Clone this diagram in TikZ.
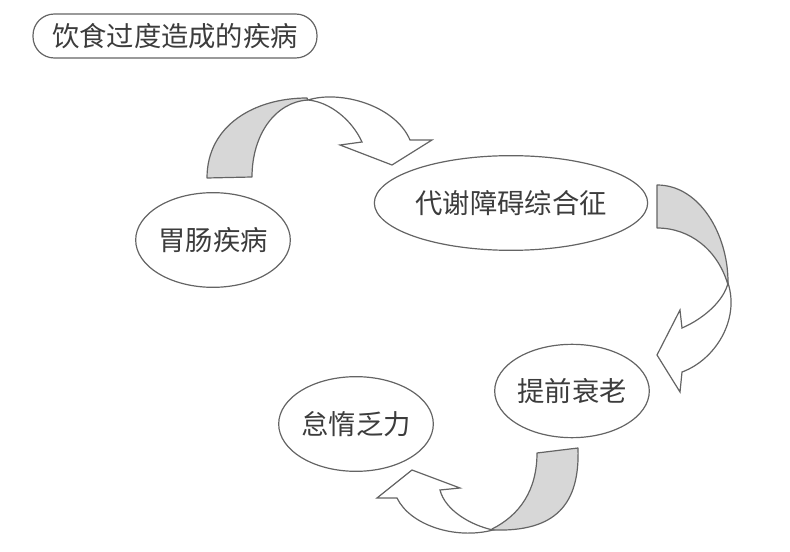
\documentclass[tikz,border=0pt]{standalone}
\usepackage{fontspec}
\usepackage{xcolor}
\usepackage{tikz}
\usetikzlibrary{shapes.geometric}
\newfontfamily\cjk{Noto Sans CJK SC}
\definecolor{lineGray}{RGB}{100,100,100}
\definecolor{textGray}{RGB}{60,60,60}
\definecolor{bandGray}{RGB}{215,215,215}

\begin{document}
\begin{tikzpicture}[x=0.75pt, y=-0.75pt,
  ill/.style={ellipse, draw=lineGray, line width=0.9pt, inner sep=0pt,
    minimum height=71pt, text=textGray, font=\cjk\fontsize{20.5pt}{24pt}\selectfont},
  title/.style={draw=lineGray, line width=0.9pt, rounded corners=16pt,
    minimum width=213pt, minimum height=33pt, inner sep=0pt,
    text=textGray, font=\cjk\fontsize{20.5pt}{24pt}\selectfont},
  band/.style={draw=lineGray, line width=0.9pt, fill=bandGray, line join=round},
  head/.style={draw=lineGray, line width=0.9pt, fill=white, line join=miter}]
  \useasboundingbox (0,0) rectangle (790,552);

  % Title
  \node[title] (ttl) at (175,36) {饮食过度造成的疾病};

  % Diseases
  \node[ill, minimum width=115pt] (gut) at (213,240) {胃肠疾病};
  \node[ill, minimum width=205pt] (meta) at (511,203) {代谢障碍综合征};
  \node[ill, minimum width=113pt, minimum height=70pt] (aging) at (572,391) {提前衰老};
  \node[ill, minimum width=115pt] (lazy) at (356,424) {怠惰乏力};

  % Arrow: gut -> meta
  \draw[band] (207,178) .. controls (207,125) and (255,98) .. (307,98)
    -- (308,100) .. controls (275,102) and (252,135) .. (252,177) -- cycle;
  \draw[head] (308,100) .. controls (340,90) and (395,105) .. (410,140)
    -- (432,140) -- (392,165) -- (340,145) -- (362,142)
    .. controls (352,120) and (330,102) .. (308,100) -- cycle;

  % Arrow: meta -> aging
  \draw[band] (657,185) .. controls (700,185) and (728,235) .. (728,282)
    -- (728,285) .. controls (718,250) and (690,228) .. (657,228) -- cycle;
  \draw[head] (728,283) .. controls (740,320) and (715,360) .. (682,372)
    -- (680,392) -- (657,355) -- (680,310) -- (682,328)
    .. controls (705,318) and (724,300) .. (728,283) -- cycle;

  % Arrow: aging -> lazy
  \draw[band] (537,453) -- (578,448) .. controls (580,505) and (555,532) .. (493,530)
    -- (492,529) .. controls (520,515) and (537,490) .. (537,453) -- cycle;
  \draw[head] (493,530) .. controls (455,540) and (410,525) .. (397,498)
    -- (377,498) -- (412,470) -- (460,488) -- (440,490)
    .. controls (445,510) and (470,525) .. (493,530) -- cycle;
\end{tikzpicture}
\end{document}
